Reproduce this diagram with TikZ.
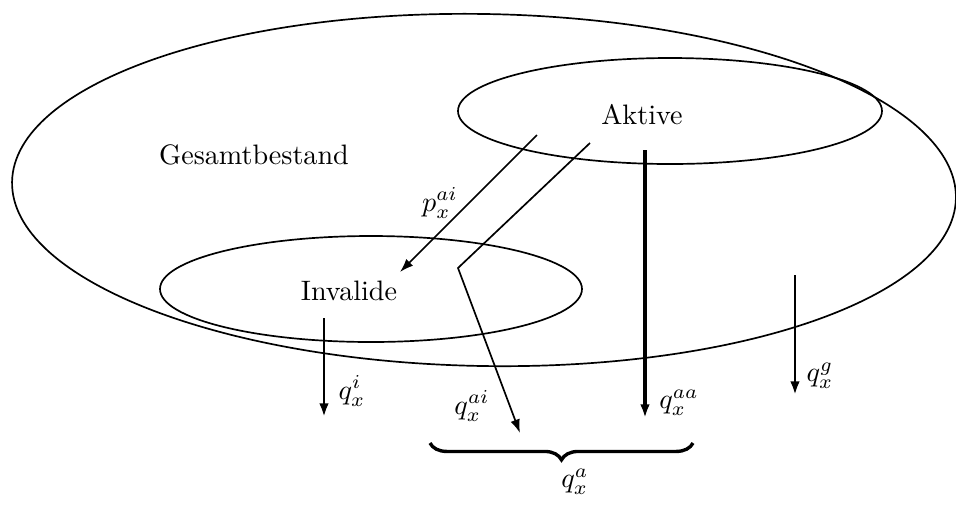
\documentclass[tikz,border=0pt]{standalone}
\usetikzlibrary{arrows.meta,decorations.pathreplacing}
\begin{document}
\begin{tikzpicture}[x=0.0125cm, y=-0.0125cm, semithick,
    flow/.style={-{Latex[length=1.7mm,width=1.2mm]}},
    rate/.style={inner sep=1pt}
  ]
    \useasboundingbox (0,0) rectangle (956,507);

    % Bestaende
    \draw[rotate around={-1:(484,190)}] (484,190) ellipse [x radius=472, y radius=176];
    \draw (670,111) ellipse [x radius=212, y radius=53];
    \draw (371,289) ellipse [x radius=211, y radius=53];

    \node (gesamt) at (254,155) {Gesamtbestand};
    \node (aktive) at (642,115) {Aktive};
    \node (invalide) at (349,291) {Invalide};

    % Uebergaenge
    \coordinate (pstart) at (537,135);
    \coordinate (pend) at (400,272);
    \coordinate (qaistart) at (590,143);
    \coordinate (qaiknick) at (458,268);
    \coordinate (qaiend) at (520,433);
    \coordinate (qaastart) at (645,150);
    \coordinate (qaaend) at (645,418);
    \coordinate (qistart) at (324,318);
    \coordinate (qiend) at (324,417);
    \coordinate (qgstart) at (795,275);
    \coordinate (qgend) at (795,395);

    \draw[flow] (pstart) -- (pend);
    \draw[flow] (qaistart) -- (qaiknick) -- (qaiend);
    \draw[flow, line width=1.6pt] (qaastart) -- (qaaend);
    \draw[flow, line width=1pt] (qistart) -- (qiend);
    \draw[flow, line width=1pt] (qgstart) -- (qgend);

    \node[rate] (pai) at (440,203) {$p_x^{ai}$};
    \node[rate] (qai) at (472,406) {$q_x^{ai}$};
    \node[rate] (qaa) at (679,403) {$q_x^{aa}$};
    \node[rate] (qi) at (352,391) {$q_x^{i}$};
    \node[rate] (qg) at (820,376) {$q_x^{g}$};

    % Summe
    \coordinate (bl) at (430,443);
    \coordinate (br) at (693,443);
    \draw[decorate, decoration={brace, mirror, amplitude=6pt}, line width=1.2pt] (bl) -- (br);
    \node[rate] (qa) at (575,482) {$q_x^{a}$};
\end{tikzpicture}
\end{document}
